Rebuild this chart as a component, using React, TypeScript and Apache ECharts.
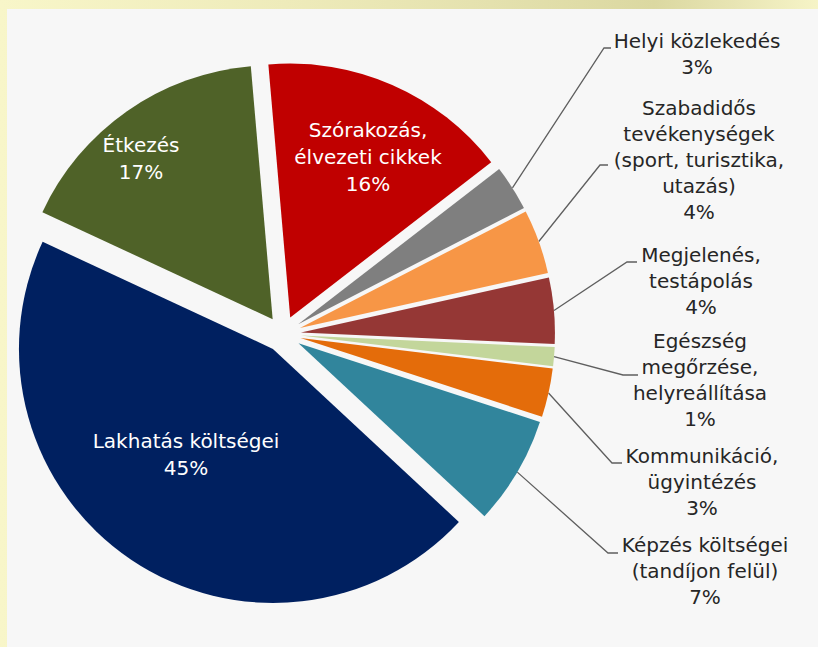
import React, { useEffect, useRef } from 'react';
import * as echarts from 'echarts';

// ---- data ----
const categories = [
  'Szórakozás,\nélvezeti cikkek',
  'Helyi közlekedés',
  'Szabadidős\ntevékenységek\n(sport, turisztika,\nutazás)',
  'Megjelenés,\ntestápolás',
  'Egészség\nmegőrzése,\nhelyreállítása',
  'Kommunikáció,\nügyintézés',
  'Képzés költségei\n(tandíjon felül)',
  'Lakhatás költségei',
  'Étkezés',
];
const shares = [15.9, 2.9, 4.1, 4.2, 1.2, 3.1, 6.9, 45.0, 16.7];
const colors = ['#c00000', '#7f7f7f', '#f79646', '#953735', '#c3d69b', '#e46c0a', '#31859c', '#002060', '#4f6228'];
const insideLabel = [true, false, false, false, false, false, false, true, true];

// ---- layout (pixels) ----
const W = 818;
const H = 647;
const CX = 283;
const CY = 334;
const R = 254;
const EXPLODE = 18;
const START = -4.94; // degrees clockwise from 12 o'clock

// label anchors: inside -> block centre; outside -> block centre-x / top-y + leader bend/end
const labelAnchors: any[] = [
  { x: 368, y: 157 },
  { x: 697, y: 28, bend: [604, 48], end: [611, 48] },
  { x: 699, y: 95, bend: [600, 165], end: [608, 165] },
  { x: 701, y: 242, bend: [627, 262], end: [637, 262] },
  { x: 700, y: 328, bend: [623, 375], end: [638, 375] },
  { x: 702, y: 443, bend: [612, 463], end: [622, 463] },
  { x: 705, y: 532, bend: [608, 553], end: [618, 553] },
  { x: 186, y: 454 },
  { x: 141, y: 158 },
];

export default function App() {
  const ref = useRef<HTMLDivElement>(null);
  useEffect(() => {
    if (!ref.current) return;
    const chart = echarts.init(ref.current, undefined, { renderer: 'svg' });

    const total = shares.reduce((a, b) => a + b, 0);
    let acc = 0;
    const mids = shares.map((v) => {
      const a0 = START + (acc / total) * 360;
      acc += v;
      const a1 = START + (acc / total) * 360;
      return (a0 + a1) / 2;
    });

    const series = shares.map((_, i) => {
      const m = (mids[i] * Math.PI) / 180;
      const cx = CX + EXPLODE * Math.sin(m);
      const cy = CY - EXPLODE * Math.cos(m);
      const p0 = [cx + R * Math.sin(m), cy - R * Math.cos(m)];
      const anchor = labelAnchors[i];
      return {
        type: 'pie',
        silent: true,
        center: [cx, cy],
        radius: [0, R],
        startAngle: 90 - START,
        clockwise: true,
        avoidLabelOverlap: false,
        emphasis: { disabled: true },
        labelLayout: () => {
          if (insideLabel[i]) {
            return { x: anchor.x, y: anchor.y, align: 'center', verticalAlign: 'middle' };
          }
          return {
            x: anchor.x,
            y: anchor.y,
            align: 'center',
            verticalAlign: 'top',
            labelLinePoints: [p0, anchor.bend, anchor.end],
          };
        },
        data: shares.map((v, j) =>
          j === i
            ? {
                value: v,
                name: categories[j],
                itemStyle: { color: colors[j] },
                label: insideLabel[j]
                  ? {
                      show: true,
                      position: 'inside',
                      color: '#ffffff',
                      fontSize: 20,
                      lineHeight: 27,
                      fontFamily: 'DejaVu Sans',
                      formatter: (p: any) => `${p.name}\n${Math.round(p.value)}%`,
                    }
                  : {
                      show: true,
                      position: 'outside',
                      color: '#262626',
                      fontSize: 20,
                      lineHeight: 26,
                      fontFamily: 'DejaVu Sans',
                      formatter: (p: any) => `${p.name}\n${Math.round(p.value)}%`,
                    },
                labelLine: insideLabel[j]
                  ? { show: false }
                  : { show: true, lineStyle: { color: '#5f5f5f', width: 1.3 } },
              }
            : {
                value: v,
                name: categories[j],
                itemStyle: { color: 'rgba(0,0,0,0)' },
                label: { show: false },
                labelLine: { show: false },
              }
        ),
      };
    });

    chart.setOption({
      animation: false,
      textStyle: { fontFamily: 'DejaVu Sans' },
      graphic: [
        {
          type: 'rect',
          z: -10,
          silent: true,
          shape: { x: 0, y: 0, width: W, height: H },
          style: {
            fill: new echarts.graphic.LinearGradient(0, 0, 1, 0, [
              { offset: 0, color: '#f8f6c9' },
              { offset: 0.35, color: '#eeebba' },
              { offset: 0.6, color: '#e4e1ae' },
              { offset: 0.8, color: '#dbd8a1' },
              { offset: 0.9, color: '#e8e5b4' },
              { offset: 1, color: '#f6f4c7' },
            ]),
          },
        },
        {
          type: 'rect',
          z: -9,
          silent: true,
          shape: { x: 7, y: 9, width: W - 7, height: H - 9 },
          style: { fill: '#f7f7f7' },
        },
      ],
      series,
    });
    return () => chart.dispose();
  }, []);
  return <div ref={ref} style={{ position: 'absolute', left: 0, top: 0, width: W, height: H }} />;
}
